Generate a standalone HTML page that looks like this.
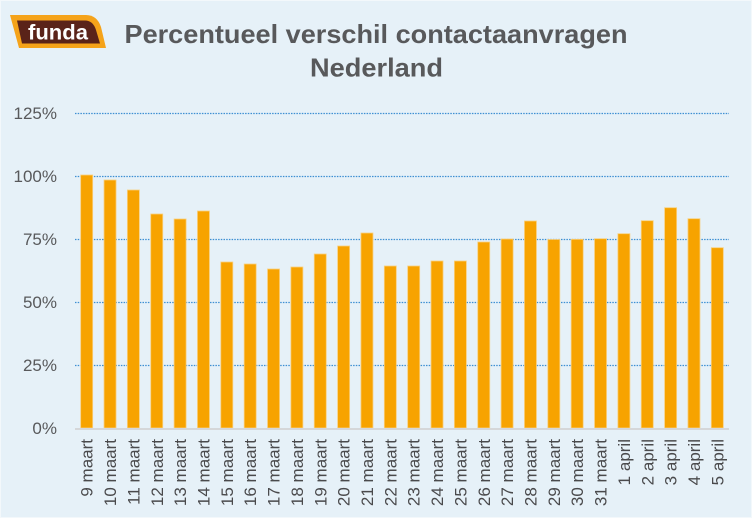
<!DOCTYPE html>
<html>
<head>
<meta charset="utf-8">
<style>
  html,body{margin:0;padding:0;background:#e6f1f8;}
  svg{display:block;}
  text{font-family:"Liberation Sans", sans-serif;}
</style>
</head>
<body>
<svg width="752" height="518" viewBox="0 0 752 518" xmlns="http://www.w3.org/2000/svg">
  <rect x="0" y="0" width="752" height="518" fill="#f3f8fb"/>
  <rect x="1" y="1" width="750" height="516" fill="#e6f1f8"/>

  <!-- logo -->
  <path d="M10 15 L86 15 Q97 15 101 27 L106 48 L19 48 Z" fill="#f5a31a"/>
  <path d="M17 20.5 L85 20.5 Q93 20.5 96 30 L100 43.5 L22 43.5 Z" fill="#5a2319"/>
  <text x="28" y="39.5" font-size="21" font-weight="bold" fill="#ffffff" textLength="60" lengthAdjust="spacingAndGlyphs">funda</text>

  <!-- title -->
  <text x="376" y="43" font-size="26" font-weight="bold" fill="#58595b" text-anchor="middle" textLength="503" lengthAdjust="spacingAndGlyphs">Percentueel verschil contactaanvragen</text>
  <text x="376.5" y="76.5" font-size="26" font-weight="bold" fill="#58595b" text-anchor="middle" textLength="133" lengthAdjust="spacingAndGlyphs">Nederland</text>

  <!-- gridlines -->
  <g stroke="#3d8fd2" stroke-width="1.3" stroke-dasharray="1.5,1.2">
    <line x1="75" y1="113.5" x2="729" y2="113.5"/>
    <line x1="75" y1="176.5" x2="729" y2="176.5"/>
    <line x1="75" y1="239.5" x2="729" y2="239.5"/>
    <line x1="75" y1="302.5" x2="729" y2="302.5"/>
    <line x1="75" y1="365.5" x2="729" y2="365.5"/>
  </g>

  <!-- y labels -->
  <g font-size="17" fill="#58595b" text-anchor="end">
    <text x="57" y="119">125%</text>
    <text x="57" y="182">100%</text>
    <text x="57" y="245">75%</text>
    <text x="57" y="308">50%</text>
    <text x="57" y="371">25%</text>
    <text x="57" y="434">0%</text>
  </g>

  <!-- bars -->
  <g fill="#f7a300" stroke="#f8cf7e" stroke-width="0.8">
    <rect x="80.68" y="175" width="12" height="253"/>
    <rect x="104.04" y="180" width="12" height="248"/>
    <rect x="127.39" y="190" width="12" height="238"/>
    <rect x="150.75" y="214" width="12" height="214"/>
    <rect x="174.11" y="219" width="12" height="209"/>
    <rect x="197.46" y="211" width="12" height="217"/>
    <rect x="220.82" y="262" width="12" height="166"/>
    <rect x="244.18" y="264" width="12" height="164"/>
    <rect x="267.54" y="269" width="12" height="159"/>
    <rect x="290.89" y="267" width="12" height="161"/>
    <rect x="314.25" y="254" width="12" height="174"/>
    <rect x="337.61" y="246" width="12" height="182"/>
    <rect x="360.96" y="233" width="12" height="195"/>
    <rect x="384.32" y="266" width="12" height="162"/>
    <rect x="407.68" y="266" width="12" height="162"/>
    <rect x="431.04" y="261" width="12" height="167"/>
    <rect x="454.39" y="261" width="12" height="167"/>
    <rect x="477.75" y="242" width="12" height="186"/>
    <rect x="501.11" y="239" width="12" height="189"/>
    <rect x="524.46" y="221" width="12" height="207"/>
    <rect x="547.82" y="239.5" width="12" height="188.5"/>
    <rect x="571.18" y="239.3" width="12" height="188.7"/>
    <rect x="594.54" y="238.7" width="12" height="189.3"/>
    <rect x="617.89" y="233.7" width="12" height="194.3"/>
    <rect x="641.25" y="220.7" width="12" height="207.3"/>
    <rect x="664.61" y="207.7" width="12" height="220.3"/>
    <rect x="687.96" y="218.7" width="12" height="209.3"/>
    <rect x="711.32" y="247.7" width="12" height="180.3"/>
  </g>

  <!-- axis -->
  <line x1="75" y1="429" x2="729" y2="429" stroke="#d5d7d9" stroke-width="2"/>

  <!-- x labels -->
  <g font-size="17" fill="#4a4a4c" text-anchor="end">
    <text transform="translate(92.68,439) rotate(-90)">9 maart</text>
    <text transform="translate(116.04,439) rotate(-90)">10 maart</text>
    <text transform="translate(139.39,439) rotate(-90)">11 maart</text>
    <text transform="translate(162.75,439) rotate(-90)">12 maart</text>
    <text transform="translate(186.11,439) rotate(-90)">13 maart</text>
    <text transform="translate(209.46,439) rotate(-90)">14 maart</text>
    <text transform="translate(232.82,439) rotate(-90)">15 maart</text>
    <text transform="translate(256.18,439) rotate(-90)">16 maart</text>
    <text transform="translate(279.54,439) rotate(-90)">17 maart</text>
    <text transform="translate(302.89,439) rotate(-90)">18 maart</text>
    <text transform="translate(326.25,439) rotate(-90)">19 maart</text>
    <text transform="translate(349.61,439) rotate(-90)">20 maart</text>
    <text transform="translate(372.96,439) rotate(-90)">21 maart</text>
    <text transform="translate(396.32,439) rotate(-90)">22 maart</text>
    <text transform="translate(419.68,439) rotate(-90)">23 maart</text>
    <text transform="translate(443.04,439) rotate(-90)">24 maart</text>
    <text transform="translate(466.39,439) rotate(-90)">25 maart</text>
    <text transform="translate(489.75,439) rotate(-90)">26 maart</text>
    <text transform="translate(513.11,439) rotate(-90)">27 maart</text>
    <text transform="translate(536.46,439) rotate(-90)">28 maart</text>
    <text transform="translate(559.82,439) rotate(-90)">29 maart</text>
    <text transform="translate(583.18,439) rotate(-90)">30 maart</text>
    <text transform="translate(606.54,439) rotate(-90)">31 maart</text>
    <text transform="translate(629.89,439) rotate(-90)">1 april</text>
    <text transform="translate(653.25,439) rotate(-90)">2 april</text>
    <text transform="translate(676.61,439) rotate(-90)">3 april</text>
    <text transform="translate(699.96,439) rotate(-90)">4 april</text>
    <text transform="translate(723.32,439) rotate(-90)">5 april</text>
  </g>
</svg>
</body>
</html>
